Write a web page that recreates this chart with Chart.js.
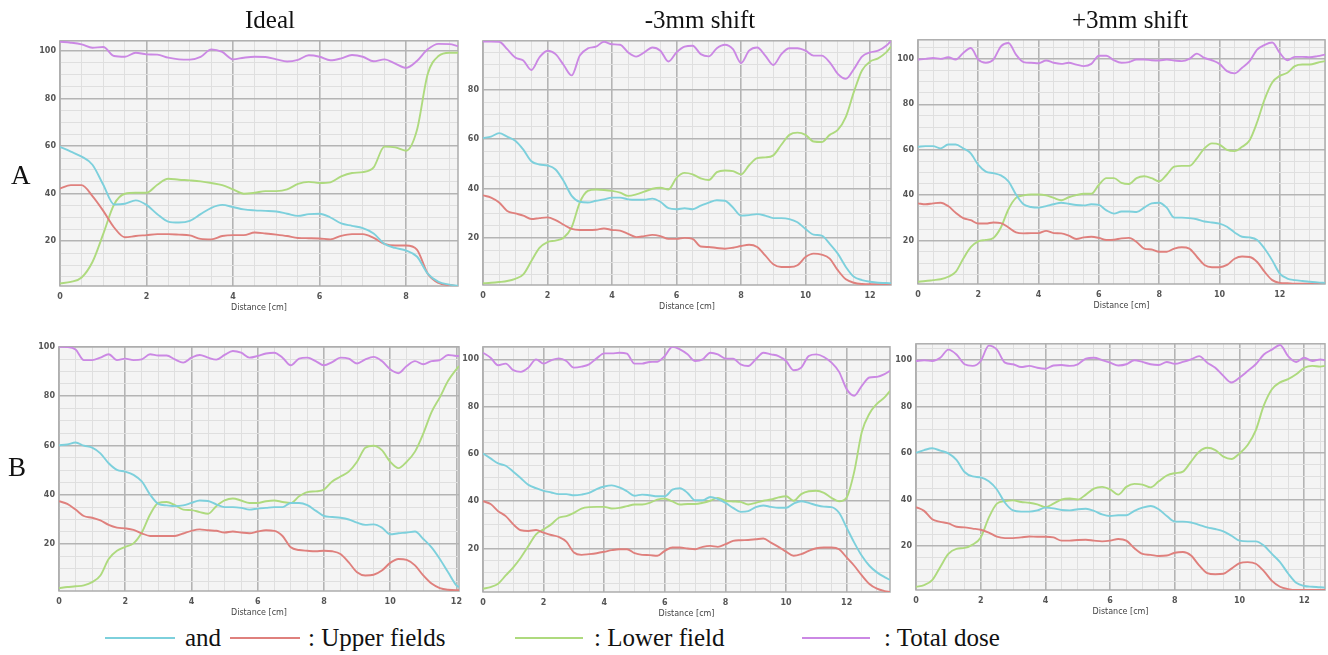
<!DOCTYPE html>
<html>
<head>
<meta charset="utf-8">
<title>Dose profiles</title>
<script src="https://cdn.jsdelivr.net/npm/chart.js@4.4.1/dist/chart.umd.min.js"></script>
<style>
  html, body { margin: 0; padding: 0; background: #fff; }
  body { position: relative; width: 1328px; height: 655px; overflow: hidden; font-family: "Liberation Serif", "Times New Roman", serif; color: #111; }
  .box { position: absolute; }
  .title { position: absolute; font-size: 25px; line-height: 25px; white-space: nowrap; transform: translateX(-50%); }
  .row { position: absolute; font-size: 27px; line-height: 27px; }
  .key { position: absolute; height: 2px; }
  .keytext { position: absolute; font-size: 25px; line-height: 25px; white-space: nowrap; }
</style>
</head>
<body>
<script>
// Tick labels shown on the axes (minor grid every 0.5 cm / 5 %)
const xLabelTicks = [0, 2, 4, 6, 8, 10, 12];
const yLabelTicks = [20, 40, 60, 80, 100];

// Row A, Ideal
const distIdealA = [0,0.25,0.5,0.75,1,1.25,1.5,1.75,2,2.25,2.5,2.75,3,3.25,3.5,3.75,4,4.25,4.5,4.75,5,5.25,5.5,5.75,6,6.25,6.5,6.75,7,7.25,7.5,7.75,8,8.25,8.5,8.75,9,9.2];
const upper1IdealA = [59.7,57.7,55.6,52.2,43.8,35.5,35.8,37.2,35.3,31.4,28.3,27.9,28.6,31.4,34.1,35.3,34.4,33.4,33.0,32.8,32.5,31.6,30.7,31.4,31.6,30.0,27.5,26.5,25.5,23.3,18.9,17.2,16.1,13.6,6.4,2.9,1.8,1.3];
const upper2IdealA = [42.2,43.6,43.6,39.0,32.8,25.8,21.7,22.2,22.6,23.0,23.0,22.8,22.5,21.0,20.8,22.2,22.6,22.6,23.7,23.3,22.8,22.2,21.4,21.3,21.2,20.8,22.3,23.0,23.0,21.4,18.9,18.2,18.2,16.5,6.4,2.5,1.6,1.1];
const lowerIdealA = [2.3,2.9,4.8,11.3,23.1,35.5,40.0,40.4,40.4,43.8,46.3,45.9,45.6,45.2,44.5,43.6,41.8,40.0,40.4,41.1,41.1,41.8,44.1,45.0,44.5,44.8,47.3,48.7,49.1,51.1,59.8,59.5,58.1,66.7,90.3,97.9,99.3,99.3];
const totalIdealA = [103.9,103.5,102.8,101.4,101.7,97.9,97.6,99.3,98.6,98.5,97.2,96.5,96.4,97.5,100.7,99.6,96.5,97.2,97.6,97.5,96.5,95.6,96.3,98.2,97.6,96.1,96.9,98.3,97.6,95.7,96.5,94.7,92.9,95.8,100.7,103.0,102.9,102.1];

// Row A, -3mm shift
const distMinusA = [0,0.25,0.5,0.75,1,1.25,1.5,1.75,2,2.25,2.5,2.75,3,3.25,3.5,3.75,4,4.25,4.5,4.75,5,5.25,5.5,5.75,6,6.25,6.5,6.75,7,7.25,7.5,7.75,8,8.25,8.5,8.75,9,9.25,9.5,9.75,10,10.25,10.5,10.75,11,11.25,11.5,11.75,12,12.25,12.5,12.65];
const upper1MinusA = [60.4,61.0,62.4,61.0,59.3,55.7,51.0,49.7,49.3,47.7,43.0,37.0,34.6,34.3,35.0,35.6,36.3,36.3,35.6,35.4,35.4,35.9,34.6,32.0,31.6,32.0,31.6,33.0,34.3,35.2,35.0,32.3,29.0,29.2,29.6,29.0,28.0,28.0,27.6,26.3,23.6,21.3,20.9,17.6,13.6,8.2,4.2,2.9,2.2,1.8,1.7,1.6];
const upper2MinusA = [37.2,36.3,34.3,30.9,29.9,29.0,27.6,28.0,28.3,27.2,25.3,23.6,23.2,23.2,23.3,23.8,23.2,22.9,21.6,20.3,20.7,21.2,20.7,19.6,19.6,20.0,19.6,16.5,16.3,15.9,15.6,16.0,16.7,17.2,16.3,12.9,9.3,8.2,8.2,8.9,12.2,13.6,13.2,11.6,6.9,3.2,1.8,1.3,1.2,1.2,1.2,1.2];
const lowerMinusA = [1.6,1.8,2.1,2.5,3.4,5.2,10.6,15.9,18.3,18.9,20.0,24.3,34.3,39.0,39.6,39.4,39.0,38.3,37.0,37.6,38.7,39.9,40.3,39.6,44.3,46.3,45.7,44.1,43.4,46.6,47.3,47.0,45.7,49.4,52.3,52.6,53.4,57.7,61.7,62.6,61.7,59.0,58.8,61.7,63.7,69.0,79.1,87.8,91.4,92.7,95.1,97.4];
const totalMinusA = [99.5,99.5,99.4,96.4,93.0,91.8,88.0,93.1,95.8,94.4,90.0,85.8,93.8,96.7,97.4,99.4,98.4,98.2,95.1,93.4,95.1,97.1,95.8,91.4,95.1,97.4,97.8,94.4,93.5,96.8,98.2,96.4,90.8,95.8,97.1,93.8,90.0,94.4,96.8,96.8,95.8,93.8,93.8,91.1,86.4,84.4,88.4,93.4,95.1,95.8,97.8,99.8];

// Row A, +3mm shift
const distPlusA = [0,0.25,0.5,0.75,1,1.25,1.5,1.75,2,2.25,2.5,2.75,3,3.25,3.5,3.75,4,4.25,4.5,4.75,5,5.25,5.5,5.75,6,6.25,6.5,6.75,7,7.25,7.5,7.75,8,8.25,8.5,8.75,9,9.25,9.5,9.75,10,10.25,10.5,10.75,11,11.25,11.5,11.75,12,12.25,12.5,12.75,13,13.25,13.5];
const upper1PlusA = [61.3,61.6,61.6,60.6,62.3,62.3,60.6,58.4,53.3,50.4,49.7,48.7,46.1,40.3,36.0,34.8,34.5,35.2,36.0,36.7,36.2,35.7,35.5,36.0,35.7,33.3,31.9,32.8,32.8,32.6,34.5,36.4,36.7,34.5,30.1,30.1,29.9,29.4,28.4,28.0,27.5,26.1,23.6,21.7,21.4,20.3,16.4,11.3,5.5,3.3,2.6,2.2,1.9,1.6,1.4];
const upper2PlusA = [36.4,36.0,36.4,36.7,35.2,32.3,29.9,29.0,27.5,27.5,28.0,27.7,25.8,23.6,23.2,23.3,23.3,24.3,23.3,23.2,22.2,20.7,21.4,21.7,21.2,20.3,20.4,21.0,21.2,19.4,16.5,16.1,15.1,15.1,16.5,17.1,16.5,12.9,9.3,8.3,8.3,9.3,12.0,13.0,12.8,10.6,6.2,2.6,1.4,1.2,1.0,1.0,1.0,1.0,1.0];
const lowerPlusA = [1.9,2.2,2.6,3.0,4.1,6.2,12.0,17.1,19.7,20.3,21.2,25.8,33.8,38.8,39.9,40.3,40.3,39.9,38.8,37.8,39.1,40.0,40.6,40.6,44.6,47.5,47.5,45.4,44.9,47.5,48.3,47.5,46.1,49.0,52.6,52.9,52.9,56.2,60.6,62.8,62.3,59.9,59.4,61.3,64.2,72.2,82.3,89.6,92.5,93.9,96.8,97.5,97.5,98.3,99.0];
const totalPlusA = [99.7,100.0,100.4,100.0,100.7,99.7,102.6,104.8,99.7,98.3,99.7,105.5,107.0,101.9,98.6,98.3,98.1,99.3,98.3,97.8,98.3,97.5,96.8,97.8,101.4,101.4,99.4,98.3,98.6,99.7,99.7,99.4,99.3,99.7,99.3,99.0,100.0,102.3,100.4,99.4,97.8,94.6,93.6,96.1,99.0,104.1,106.2,107.2,102.6,99.4,100.9,100.9,100.7,101.2,101.9];

// Row B, Ideal
const distIdealB = [0,0.25,0.5,0.75,1,1.25,1.5,1.75,2,2.25,2.5,2.75,3,3.25,3.5,3.75,4,4.25,4.5,4.75,5,5.25,5.5,5.75,6,6.25,6.5,6.75,7,7.25,7.5,7.75,8,8.25,8.5,8.75,9,9.25,9.5,9.75,10,10.25,10.5,10.75,11,11.25,11.5,11.75,12,12.08];
const upper1IdealB = [60.1,60.4,61.2,59.9,59.1,56.8,52.8,50.1,49.4,48.1,45.4,40.1,36.3,35.7,35.4,35.7,36.7,37.7,37.5,36.1,35.0,35.0,34.7,34.0,34.4,34.7,35.0,35.0,36.7,36.7,35.8,33.6,31.4,31.0,30.7,30.0,28.7,27.8,28.0,26.7,24.0,24.4,24.7,25.1,22.1,18.7,14.0,8.6,3.3,2.6];
const upper2IdealB = [37.4,36.3,34.0,31.4,30.7,29.6,27.8,26.7,26.4,25.8,24.4,23.3,23.3,23.3,23.3,24.3,25.4,26.0,25.6,25.4,24.7,25.1,24.7,24.4,25.1,25.6,25.4,23.3,18.7,17.6,17.3,17.1,17.3,17.1,16.0,12.6,8.6,7.3,7.6,9.3,12.4,14.0,13.6,11.4,7.3,4.0,2.2,1.5,1.3,1.3];
const lowerIdealB = [2.2,2.6,2.9,3.3,4.6,7.3,14.0,17.3,18.9,20.3,24.7,32.0,36.7,37.1,35.8,34.0,33.8,33.0,32.3,35.4,37.7,38.5,37.7,36.7,36.7,37.4,37.7,37.1,36.7,39.4,41.1,41.4,42.1,45.4,47.4,49.4,53.4,59.1,59.9,58.1,53.4,50.8,53.4,57.5,64.8,73.5,79.5,86.2,90.9,92.2];
const totalIdealB = [100.0,99.9,98.9,94.6,94.6,95.6,97.0,94.6,95.2,94.6,94.9,97.0,96.5,96.5,94.9,93.6,95.6,96.7,95.6,94.8,96.7,98.3,97.6,95.6,96.3,97.3,97.6,95.6,92.5,95.2,95.6,94.2,92.5,93.8,95.6,95.2,93.2,94.9,95.9,94.2,90.9,89.3,92.2,94.2,92.9,94.2,94.6,96.7,96.3,96.3];

// Row B, -3mm shift
const distMinusB = [0,0.25,0.5,0.75,1,1.25,1.5,1.75,2,2.25,2.5,2.75,3,3.25,3.5,3.75,4,4.25,4.5,4.75,5,5.25,5.5,5.75,6,6.25,6.5,6.75,7,7.25,7.5,7.75,8,8.25,8.5,8.75,9,9.25,9.5,9.75,10,10.25,10.5,10.75,11,11.25,11.5,11.75,12,12.25,12.5,12.75,13,13.25,13.43];
const upper1MinusB = [60.2,58.1,56.0,55.0,52.5,49.7,46.9,45.5,44.4,43.7,43.0,43.0,42.5,42.8,43.5,45.1,46.2,46.7,45.8,44.2,42.3,42.8,42.5,42.1,42.1,44.9,45.5,43.5,40.4,40.4,41.8,40.9,39.3,37.2,35.5,35.8,37.5,38.2,37.6,37.2,37.2,39.0,40.0,39.3,38.3,37.7,37.5,35.1,28.8,22.5,16.9,12.7,9.9,7.9,6.7];
const upper2MinusB = [40.0,38.8,35.8,33.7,30.2,27.7,27.4,27.8,26.7,25.7,24.9,22.9,18.3,17.3,17.6,18.0,18.6,19.3,19.7,19.7,18.0,17.3,17.2,16.9,19.0,20.4,20.4,20.0,19.7,20.7,21.1,20.7,21.8,23.2,23.5,23.6,23.9,24.2,22.5,20.7,18.7,16.9,17.6,19.0,20.1,20.4,20.4,19.7,16.2,12.7,8.6,5.0,3.0,2.0,1.6];
const lowerMinusB = [3.0,3.7,5.1,8.6,12.0,16.2,21.1,26.0,28.1,30.2,33.0,33.7,35.1,36.9,37.5,37.6,37.6,36.9,37.2,37.9,38.6,38.6,39.3,40.7,41.1,39.9,38.6,38.8,38.8,39.3,40.2,41.4,40.2,39.9,39.7,38.6,39.3,40.2,40.7,41.6,42.1,40.2,43.0,44.2,44.4,43.5,41.4,40.0,41.6,52.5,69.3,77.0,81.2,83.9,86.7];
const totalMinusB = [102.8,100.7,97.5,98.2,95.4,94.7,96.5,100.0,98.2,99.6,100.4,99.3,96.5,96.9,97.9,100.4,102.5,102.5,102.8,102.4,98.2,98.2,98.9,99.0,101.4,105.3,104.2,102.1,99.3,100.0,102.8,102.1,100.3,100.3,97.9,97.2,100.0,102.8,102.1,101.4,99.3,95.4,96.5,101.4,102.1,101.0,98.6,94.7,87.4,84.6,88.8,92.3,92.6,93.7,95.1];

// Row B, +3mm shift
const distPlusB = [0,0.25,0.5,0.75,1,1.25,1.5,1.75,2,2.25,2.5,2.75,3,3.25,3.5,3.75,4,4.25,4.5,4.75,5,5.25,5.5,5.75,6,6.25,6.5,6.75,7,7.25,7.5,7.75,8,8.25,8.5,8.75,9,9.25,9.5,9.75,10,10.25,10.5,10.75,11,11.25,11.5,11.75,12,12.25,12.5,12.64];
const upper1PlusB = [60.2,61.3,62.1,61.1,59.9,57.1,51.9,50.0,49.6,47.9,44.4,38.7,35.4,34.9,34.9,35.4,36.6,36.3,35.6,35.4,35.9,36.1,35.2,33.7,33.0,33.3,33.3,35.2,36.6,37.3,35.9,33.0,30.6,30.6,30.2,29.2,28.1,27.4,26.4,24.5,22.4,22.1,22.1,20.3,16.7,13.2,8.3,4.3,2.9,2.6,2.4,2.2];
const upper2PlusB = [36.8,35.2,31.6,30.5,29.8,28.4,28.1,27.6,27.1,25.9,24.1,23.5,23.5,23.8,24.2,24.1,24.1,23.8,22.4,22.4,22.7,22.8,22.4,22.1,22.4,23.1,22.4,19.1,16.7,16.3,15.8,16.0,17.2,17.5,16.0,11.8,8.5,8.0,8.2,10.4,12.7,13.2,12.5,9.3,5.1,2.6,1.6,1.2,1.2,1.2,1.2,1.2];
const lowerPlusB = [2.6,3.3,5.4,11.1,16.7,18.9,19.3,20.7,23.8,32.3,38.3,39.4,39.7,39.0,38.7,38.0,36.8,38.3,40.1,40.5,40.1,42.2,44.8,45.5,44.4,42.2,45.5,46.8,46.5,45.3,47.9,50.4,51.4,52.1,56.4,60.6,62.3,61.3,58.5,57.5,59.9,63.5,69.8,80.5,87.5,90.4,91.8,93.9,96.7,97.5,97.2,97.5];
const totalPlusB = [99.6,99.9,99.6,101.0,104.5,102.4,98.2,97.5,99.6,106.2,104.5,98.9,98.2,97.0,97.5,96.7,96.3,97.7,97.9,97.5,98.2,100.6,101.0,100.0,98.9,97.7,98.2,99.9,99.2,98.2,97.9,99.2,98.4,99.2,100.3,101.7,98.9,96.7,93.2,90.4,92.5,95.3,98.2,102.4,104.5,106.5,101.7,99.2,101.0,99.6,100.3,99.9];

// line colours
const CYAN = '#7dd0dc';
const RED = '#df807d';
const GREEN = '#aeda7e';
const PURPLE = '#cb88e4';

// where each plot area sits on the page, and its axis range
const panels = [
  { xs: distIdealA, ys: [upper1IdealA, upper2IdealA, lowerIdealA, totalIdealA], xMax: 9.2,   yMin: 1.2, yMax: 104.3, left: 60,  top: 38,  right: 458,  bottom: 286 },
  { xs: distMinusA, ys: [upper1MinusA, upper2MinusA, lowerMinusA, totalMinusA], xMax: 12.65, yMin: 0.9, yMax: 99.8,  left: 483, top: 38,  right: 891,  bottom: 285 },
  { xs: distPlusA,  ys: [upper1PlusA,  upper2PlusA,  lowerPlusA,  totalPlusA],  xMax: 13.5,  yMin: 0.9, yMax: 108.4, left: 918, top: 37,  right: 1325, bottom: 284 },
  { xs: distIdealB, ys: [upper1IdealB, upper2IdealB, lowerIdealB, totalIdealB], xMax: 12.08, yMin: 1.0, yMax: 100,   left: 59,  top: 344, right: 460,  bottom: 591 },
  { xs: distMinusB, ys: [upper1MinusB, upper2MinusB, lowerMinusB, totalMinusB], xMax: 13.43, yMin: 1.6, yMax: 105.3, left: 483, top: 344, right: 890,  bottom: 592 },
  { xs: distPlusB,  ys: [upper1PlusB,  upper2PlusB,  lowerPlusB,  totalPlusB],  xMax: 12.64, yMin: 1.2, yMax: 107,   left: 916, top: 341, right: 1325, bottom: 590 }
];

const Y_W = 34, X_H = 30, PAD_T = 6, PAD_R = 8;

Chart.defaults.font.family = '"DejaVu Sans", Verdana, sans-serif';
Chart.defaults.color = '#555';

function isMultiple(v, step) {
  return Math.abs(v / step - Math.round(v / step)) < 1e-6;
}

function tickList(min, max, step) {
  const out = [];
  for (let k = Math.ceil(min / step - 1e-9); k * step <= max + 1e-9; k++) out.push({ value: +(k * step).toFixed(2) });
  return out;
}

function gridColor(step) {
  return function (c) {
    if (!c.tick) return '#dedede';
    return isMultiple(c.tick.value, step) ? '#b4b4b4' : '#dfdfdf';
  };
}
function gridWidth(step) {
  return function (c) {
    if (!c.tick) return 1;
    return isMultiple(c.tick.value, step) ? 1.6 : 1;
  };
}

// light grey plot background + frame
const plotFrame = {
  id: 'plotFrame',
  beforeDraw(chart) {
    const a = chart.chartArea, ctx = chart.ctx;
    ctx.save();
    ctx.fillStyle = '#f4f4f4';
    ctx.fillRect(a.left, a.top, a.right - a.left, a.bottom - a.top);
    ctx.restore();
  },
  beforeDatasetsDraw(chart) {
    const a = chart.chartArea, ctx = chart.ctx;
    ctx.save();
    ctx.strokeStyle = '#adadad';
    ctx.lineWidth = 1.5;
    ctx.strokeRect(a.left, a.top, a.right - a.left, a.bottom - a.top);
    ctx.restore();
  }
};

function line(xs, ys, color) {
  return {
    data: xs.map((x, i) => ({ x: x, y: ys[i] })),
    borderColor: color,
    borderWidth: 1.9,
    pointRadius: 0,
    cubicInterpolationMode: 'monotone',
    fill: false
  };
}

panels.forEach(function (p) {
  const w = (p.right - p.left) + Y_W + PAD_R;
  const h = (p.bottom - p.top) + PAD_T + X_H;
  const box = document.createElement('div');
  box.className = 'box';
  box.style.left = (p.left - Y_W) + 'px';
  box.style.top = (p.top - PAD_T) + 'px';
  const canvas = document.createElement('canvas');
  canvas.width = w;
  canvas.height = h;
  box.appendChild(canvas);
  document.body.appendChild(box);

  new Chart(canvas.getContext('2d'), {
    type: 'line',
    data: {
      datasets: [
        line(p.xs, p.ys[0], CYAN),
        line(p.xs, p.ys[1], RED),
        line(p.xs, p.ys[2], GREEN),
        line(p.xs, p.ys[3], PURPLE)
      ]
    },
    options: {
      responsive: false,
      animation: false,
      layout: { padding: { top: PAD_T, right: PAD_R, left: 0, bottom: 0 } },
      plugins: { legend: { display: false }, tooltip: { enabled: false } },
      scales: {
        x: {
          type: 'linear',
          min: 0,
          max: p.xMax,
          afterFit: function (s) { s.height = X_H; },
          afterBuildTicks: function (s) { s.ticks = tickList(0, p.xMax, 0.5); },
          ticks: {
            autoSkip: false,
            maxRotation: 0,
            padding: 6,
            font: { size: 8, weight: 'bold' },
            color: '#555',
            callback: function (v) { return xLabelTicks.indexOf(v) >= 0 ? String(v) : ''; }
          },
          grid: { drawTicks: false, color: gridColor(2), lineWidth: gridWidth(2) },
          border: { display: false },
          title: { display: true, text: 'Distance [cm]', font: { size: 8 }, color: '#444', padding: { top: 0, bottom: 3 } }
        },
        y: {
          type: 'linear',
          min: p.yMin,
          max: p.yMax,
          afterFit: function (s) { s.width = Y_W; },
          afterBuildTicks: function (s) { s.ticks = tickList(p.yMin, p.yMax, 5); },
          ticks: {
            autoSkip: false,
            padding: 4,
            font: { size: 8, weight: 'bold' },
            color: '#555',
            callback: function (v) { return yLabelTicks.indexOf(v) >= 0 ? String(v) : ''; }
          },
          grid: { drawTicks: false, color: gridColor(20), lineWidth: gridWidth(20) },
          border: { display: false }
        }
      }
    },
    plugins: [plotFrame]
  });
});

// column titles, row letters and the key underneath
function addText(cls, text, left, top) {
  const d = document.createElement('div');
  d.className = cls;
  d.textContent = text;
  d.style.left = left + 'px';
  d.style.top = top + 'px';
  document.body.appendChild(d);
}
addText('title', 'Ideal', 270, 7);
addText('title', '-3mm shift', 700, 7);
addText('title', '+3mm shift', 1130, 7);
addText('row', 'A', 11, 162);
addText('row', 'B', 8, 454);

function addKey(color, left, width) {
  const d = document.createElement('div');
  d.className = 'key';
  d.style.left = left + 'px';
  d.style.top = '637px';
  d.style.width = width + 'px';
  d.style.background = color;
  document.body.appendChild(d);
}
addKey(CYAN, 105, 70);
addText('keytext', 'and', 185, 625);
addKey(RED, 230, 70);
addText('keytext', ': Upper fields', 308, 625);
addKey(GREEN, 515, 68);
addText('keytext', ': Lower field', 594, 625);
addKey(PURPLE, 802, 68);
addText('keytext', ': Total dose', 884, 625);
</script>
</body>
</html>
